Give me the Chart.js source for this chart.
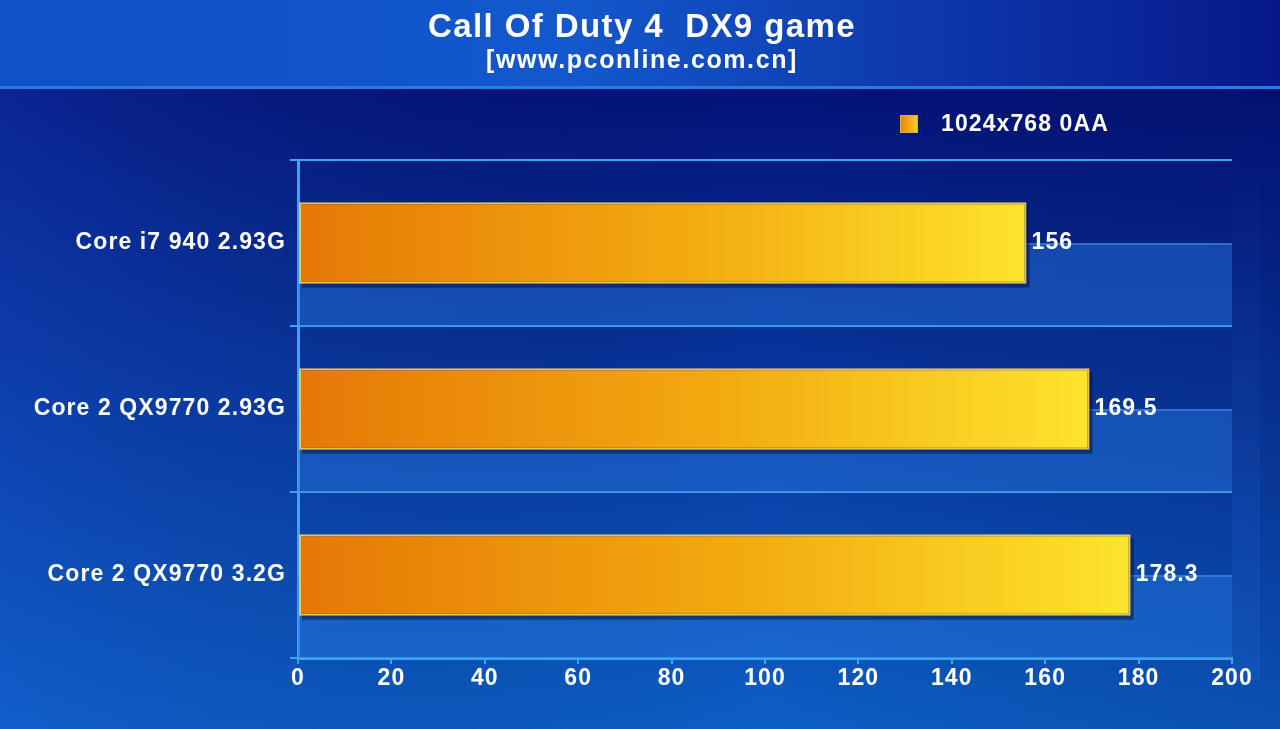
<!DOCTYPE html>
<html>
<head>
<meta charset="utf-8">
<script src="https://cdn.jsdelivr.net/npm/chart.js@4.4.1/dist/chart.umd.min.js"></script>
<style>
  html, body { margin: 0; padding: 0; background: #0a2a9a; }
  #wrap { width: 1280px; height: 729px; position: relative; }
</style>
</head>
<body>
<div id="wrap"><canvas id="myChart" width="1280" height="729"></canvas></div>
<script>
const categories = ['Core i7 940 2.93G', 'Core 2 QX9770 2.93G', 'Core 2 QX9770 3.2G'];
const fpsValues = [156, 169.5, 178.3];
const valueLabels = ['156', '169.5', '178.3'];
const seriesName = '1024x768 0AA';
const chartTitle = 'Call Of Duty 4  DX9 game';
const chartSubtitle = '[www.pconline.com.cn]';

const FONT = '"Liberation Sans", Arial, sans-serif';
const AXIS = '#3aa6f2';
const SPACING = '1.1px';

// background, title band and legend
const backdrop = {
  id: 'backdrop',
  beforeDraw(chart) {
    const c = chart.ctx;
    const w = chart.width, h = chart.height;
    c.save();
    let g = c.createLinearGradient(0, 88, 0, h);
    g.addColorStop(0, '#04137a');
    g.addColorStop(1, '#0c5fc6');
    c.fillStyle = g;
    c.fillRect(0, 88, w, h - 88);
    // lighter left side, darker right side
    g = c.createLinearGradient(0, 0, w, 0);
    g.addColorStop(0, 'rgba(30,90,220,0.25)');
    g.addColorStop(0.6, 'rgba(0,0,0,0)');
    g.addColorStop(1, 'rgba(0,0,60,0.15)');
    c.fillStyle = g;
    c.fillRect(0, 88, w, h - 88);
    // faint strip right of the plot
    g = c.createLinearGradient(0, 150, 0, 680);
    g.addColorStop(0, 'rgba(40,110,220,0)');
    g.addColorStop(1, 'rgba(40,110,220,0.2)');
    c.fillStyle = g;
    c.fillRect(1232, 150, 28, 530);

    // title band
    g = c.createLinearGradient(0, 0, w, 0);
    g.addColorStop(0, '#1050c8');
    g.addColorStop(0.45, '#1358cc');
    g.addColorStop(1, '#07188a');
    c.fillStyle = g;
    c.fillRect(0, 0, w, 88);
    c.fillStyle = '#2a7ae0';
    c.fillRect(0, 86, w, 3);

    c.fillStyle = '#ffffff';
    c.textAlign = 'center';
    c.textBaseline = 'middle';
    c.letterSpacing = '1.4px';
    c.font = 'bold 33px ' + FONT;
    c.fillText(chartTitle, 642, 28);
    c.letterSpacing = '1.6px';
    c.font = 'bold 25px ' + FONT;
    c.fillText(chartSubtitle, 642, 61);

    // legend
    g = c.createLinearGradient(900, 0, 918, 0);
    g.addColorStop(0, '#e8800a');
    g.addColorStop(1, '#fbd02a');
    c.fillStyle = g;
    c.fillRect(900, 115, 18, 18);
    c.strokeStyle = '#d8b050';
    c.lineWidth = 1;
    c.strokeRect(900.5, 115.5, 17, 17);
    c.fillStyle = '#ffffff';
    c.textAlign = 'left';
    c.letterSpacing = SPACING;
    c.font = 'bold 23px ' + FONT;
    c.fillText(seriesName, 941, 125);
    c.restore();
    // wide spacing for the axis labels drawn after this
    c.letterSpacing = SPACING;
  },
  beforeDatasetsDraw(chart) {
    const c = chart.ctx;
    const { left, right } = chart.chartArea;
    const y = chart.scales.y;
    const half = (y.getPixelForValue(1) - y.getPixelForValue(0)) / 2;
    c.save();
    categories.forEach((_, i) => {
      const y0 = y.getPixelForValue(i);
      c.fillStyle = 'rgba(40,120,225,0.45)';
      c.fillRect(left, y0, right - left, half);
      c.fillStyle = 'rgba(80,150,235,0.5)';
      c.fillRect(left, y0, right - left, 2);
    });
    // bar shadows
    chart.getDatasetMeta(0).data.forEach(bar => {
      c.fillStyle = 'rgba(10,20,60,0.55)';
      c.fillRect(bar.base + 3, bar.y - bar.height / 2 + 4, bar.x - bar.base, bar.height);
    });
    c.restore();
  },
  afterDatasetsDraw(chart) {
    const c = chart.ctx;
    c.save();
    c.fillStyle = '#ffffff';
    c.letterSpacing = SPACING;
    c.font = 'bold 23px ' + FONT;
    c.textAlign = 'left';
    c.textBaseline = 'middle';
    chart.getDatasetMeta(0).data.forEach((bar, i) => {
      c.fillText(valueLabels[i], bar.x + 5, bar.y);
    });
    c.restore();
  }
};

const ctx = document.getElementById('myChart').getContext('2d');
const chart = new Chart(ctx, {
  type: 'bar',
  data: {
    labels: categories,
    datasets: [{
      label: seriesName,
      data: fpsValues,
      backgroundColor: (context) => {
        const ch = context.chart;
        if (!ch.chartArea) return '#f0a010';
        const x1 = ch.scales.x.getPixelForValue(context.raw);
        const g = ch.ctx.createLinearGradient(ch.chartArea.left, 0, x1, 0);
        g.addColorStop(0, '#e67806');
        g.addColorStop(0.55, '#f3ac10');
        g.addColorStop(1, '#fde42c');
        return g;
      },
      borderColor: '#e6c45a',
      borderWidth: 2,
      borderSkipped: false,
      categoryPercentage: 1,
      barPercentage: 0.49
    }]
  },
  options: {
    indexAxis: 'y',
    responsive: false,
    animation: false,
    layout: { padding: { top: 160, right: 48, left: 0, bottom: 0 } },
    plugins: {
      legend: { display: false },
      tooltip: { enabled: false }
    },
    scales: {
      x: {
        min: 0,
        max: 200,
        ticks: {
          stepSize: 20,
          color: '#ffffff',
          font: { family: FONT, size: 23, weight: 'bold' },
          padding: 1
        },
        grid: { drawOnChartArea: false, drawTicks: true, tickLength: 6, color: AXIS, lineWidth: 2 },
        border: { color: AXIS, width: 3 },
        afterFit: (scale) => { scale.height = 71; }
      },
      y: {
        ticks: {
          color: '#ffffff',
          font: { family: FONT, size: 23, weight: 'bold' },
          padding: 4
        },
        grid: { color: AXIS, lineWidth: 2, tickLength: 8, offset: true },
        border: { color: AXIS, width: 3 },
        afterFit: (scale) => { scale.width = 298; }
      }
    }
  },
  plugins: [backdrop]
});
</script>
</body>
</html>
